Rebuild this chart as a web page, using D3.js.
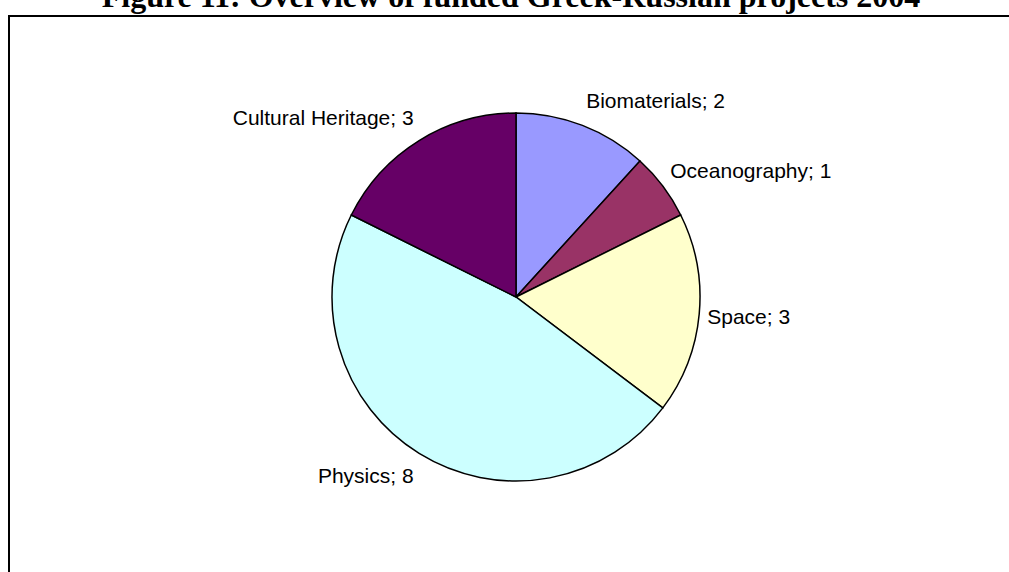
<!DOCTYPE html>
<html lang="en">
<head>
	<meta charset="UTF-8">
	<script src="https://cdn.jsdelivr.net/npm/d3@7"></script>
	<title>Funded Greek-Russian projects 2004</title>
	<style>
		body {
			margin: 0;
			overflow: hidden;
			background: #fff;
		}

		.title {
			font-family: "Times New Roman", "Liberation Serif", serif;
			font-weight: bold;
			font-size: 32px;
		}

		.label {
			font-family: Arial, "Liberation Sans", sans-serif;
			font-size: 21px;
			fill: #000;
		}
	</style>
</head>
<body>
	<script>
		// data
		const categories = ['Biomaterials', 'Oceanography', 'Space', 'Physics', 'Cultural Heritage'];
		const projects = [2, 1, 3, 8, 3];
		const colors = ['#9999FF', '#993366', '#FFFFCC', '#CCFFFF', '#660066'];
		const titleText = 'Figure 11: Overview of funded Greek-Russian projects 2004';

		const width = 1009, height = 572;
		const cx = 516, cy = 297, radius = 184;

		const svg = d3.select('body')
			.append('svg')
			.attr('width', width)
			.attr('height', height);

		// title, partly cut off by the top edge like in the original
		svg.append('text')
			.attr('class', 'title')
			.attr('x', 511)
			.attr('y', 7)
			.attr('text-anchor', 'middle')
			.text(titleText);

		// chart frame (runs off the right and bottom)
		svg.append('rect')
			.attr('x', 9)
			.attr('y', 16)
			.attr('width', 1100)
			.attr('height', 700)
			.attr('fill', 'none')
			.attr('stroke', '#000')
			.attr('stroke-width', 2);

		const data = categories.map((c, i) => ({ name: c, value: projects[i], color: colors[i] }));

		const pie = d3.pie()
			.value(d => d.value)
			.sort(null);

		const arc = d3.arc()
			.innerRadius(0)
			.outerRadius(radius);

		const g = svg.append('g')
			.attr('transform', `translate(${cx},${cy})`);

		const arcs = pie(data);

		g.selectAll('path')
			.data(arcs)
			.enter()
			.append('path')
			.attr('d', arc)
			.attr('fill', d => d.data.color)
			.attr('stroke', '#000')
			.attr('stroke-width', 1.5);

		// labels outside the slices, nearest corner toward the pie
		const labelR = radius + 19;
		g.selectAll('.label')
			.data(arcs)
			.enter()
			.append('text')
			.attr('class', 'label')
			.each(function (d) {
				const a = (d.startAngle + d.endAngle) / 2;
				const s = Math.sin(a), c = Math.cos(a);
				const side = s >= 0 ? 1 : -1;
				d3.select(this)
					.attr('x', labelR * s - side * (2 + 9 * s * s))
					.attr('y', -labelR * c - 7.5 * c)
					.attr('dy', '0.35em')
					.attr('text-anchor', side > 0 ? 'start' : 'end');
			})
			.text(d => d.data.name + '; ' + d.data.value);
	</script>
</body>
</html>
